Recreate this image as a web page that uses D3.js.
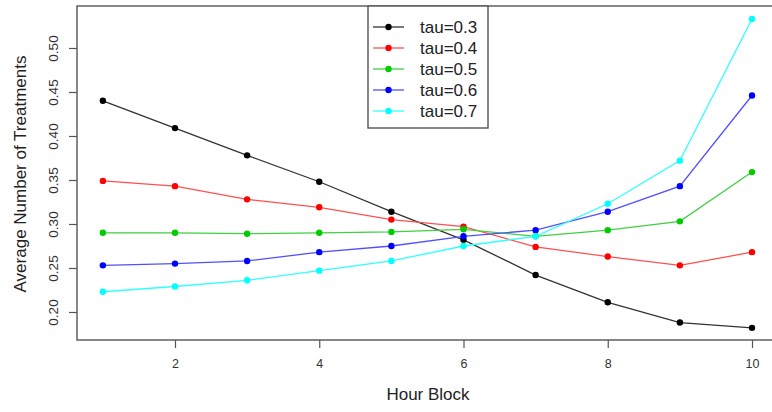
<!DOCTYPE html>
<html>
<head>
<meta charset="utf-8">
<script src="https://cdn.jsdelivr.net/npm/d3@7"></script>
<style>
  body { margin: 0; background: #fff; }
  svg { display: block; font-family: "Liberation Sans", Arial, sans-serif; }
</style>
</head>
<body>
<svg width="772" height="412"></svg>
<script>
// hour blocks and average number of treatments per quantile level
var hours = [1, 2, 3, 4, 5, 6, 7, 8, 9, 10];
var tau03 = [0.440, 0.409, 0.378, 0.348, 0.314, 0.282, 0.242, 0.211, 0.188, 0.182];
var tau04 = [0.349, 0.343, 0.328, 0.319, 0.305, 0.297, 0.274, 0.263, 0.253, 0.268];
var tau05 = [0.290, 0.290, 0.289, 0.290, 0.291, 0.294, 0.286, 0.293, 0.303, 0.359];
var tau06 = [0.253, 0.255, 0.258, 0.268, 0.275, 0.286, 0.293, 0.314, 0.343, 0.446];
var tau07 = [0.223, 0.229, 0.236, 0.247, 0.258, 0.275, 0.286, 0.323, 0.372, 0.533];
var seriesNames = ["tau=0.3", "tau=0.4", "tau=0.5", "tau=0.6", "tau=0.7"];
var xTicks = [2, 4, 6, 8, 10];
var yTicks = [0.20, 0.25, 0.30, 0.35, 0.40, 0.45, 0.50];

var colors = ["#000000", "#ff0000", "#00cc00", "#0000ff", "#00ffff"];
var lineColors = ["#333333", "#ff5050", "#40d040", "#5050ff", "#30ffff"];

var series = [tau03, tau04, tau05, tau06, tau07].map(function(vals, i) {
  return { name: seriesNames[i], color: colors[i], line: lineColors[i],
    values: hours.map(function(h, j) { return { hour: h, value: vals[j] }; }) };
});

var svg = d3.select("svg");
var box = { left: 77, right: 778, top: 6, bottom: 340 };

var x = d3.scaleLinear().domain([2, 10]).range([175, 752]);
var y = d3.scaleLinear().domain([0.2, 0.5]).range([312, 48]);

// plot frame
svg.append("rect")
  .attr("x", box.left).attr("y", box.top)
  .attr("width", box.right - box.left).attr("height", box.bottom - box.top)
  .attr("fill", "none").attr("stroke", "#555").attr("stroke-width", 1.4);

// x axis
var xAxis = svg.append("g")
  .attr("transform", "translate(0," + box.bottom + ")")
  .call(d3.axisBottom(x).tickValues(xTicks).tickSize(8).tickPadding(11).tickFormat(d3.format("d")));
xAxis.select(".domain").remove();
xAxis.selectAll("line").attr("stroke", "#555").attr("stroke-width", 1.2);
xAxis.selectAll("text").attr("font-size", 12.5).attr("fill", "#333").attr("font-family", null);

// y axis, labels rotated like R
var yAxis = svg.append("g")
  .attr("transform", "translate(" + box.left + ",0)")
  .call(d3.axisLeft(y).tickValues(yTicks).tickSize(8).tickFormat(d3.format(".2f")));
yAxis.select(".domain").remove();
yAxis.selectAll("line").attr("stroke", "#555").attr("stroke-width", 1.2);
yAxis.selectAll("text")
  .attr("x", null).attr("dy", null)
  .attr("font-size", 13.5).attr("fill", "#333").attr("font-family", null)
  .attr("text-anchor", "middle")
  .attr("transform", "translate(-24,0) rotate(-90)")
  .attr("y", 5);

// axis titles
svg.append("text")
  .attr("x", 428).attr("y", 400)
  .attr("text-anchor", "middle")
  .attr("font-size", 17).attr("fill", "#222")
  .text("Hour Block");

svg.append("text")
  .attr("transform", "translate(26,174) rotate(-90)")
  .attr("text-anchor", "middle")
  .attr("font-size", 17).attr("fill", "#222")
  .text("Average Number of Treatments");

// lines and points
var line = d3.line()
  .x(function(d) { return x(d.hour); })
  .y(function(d) { return y(d.value); });

var g = svg.append("g");
series.forEach(function(s) {
  g.append("path")
    .datum(s.values)
    .attr("fill", "none")
    .attr("stroke", s.line)
    .attr("stroke-width", 1.3)
    .attr("d", line);
  g.selectAll(null)
    .data(s.values)
    .enter().append("circle")
      .attr("cx", function(d) { return x(d.hour); })
      .attr("cy", function(d) { return y(d.value); })
      .attr("r", 3.2)
      .attr("fill", s.color);
});

// legend
var legend = svg.append("g");
legend.append("rect")
  .attr("x", 368).attr("y", box.top)
  .attr("width", 120).attr("height", 122)
  .attr("fill", "#fff").attr("stroke", "#555").attr("stroke-width", 1.4);

var item = legend.selectAll(".item")
  .data(series)
  .enter().append("g")
    .attr("class", "item")
    .attr("transform", function(d, i) { return "translate(0," + (27 + i * 21) + ")"; });

item.append("line")
  .attr("x1", 373).attr("x2", 404)
  .attr("stroke", function(d) { return d.line; })
  .attr("stroke-width", 1.3);
item.append("circle")
  .attr("cx", 388.5).attr("r", 3.2)
  .attr("fill", function(d) { return d.color; });
item.append("text")
  .attr("x", 420).attr("y", 6)
  .attr("font-size", 17).attr("fill", "#222")
  .text(function(d) { return d.name; });
</script>
</body>
</html>
